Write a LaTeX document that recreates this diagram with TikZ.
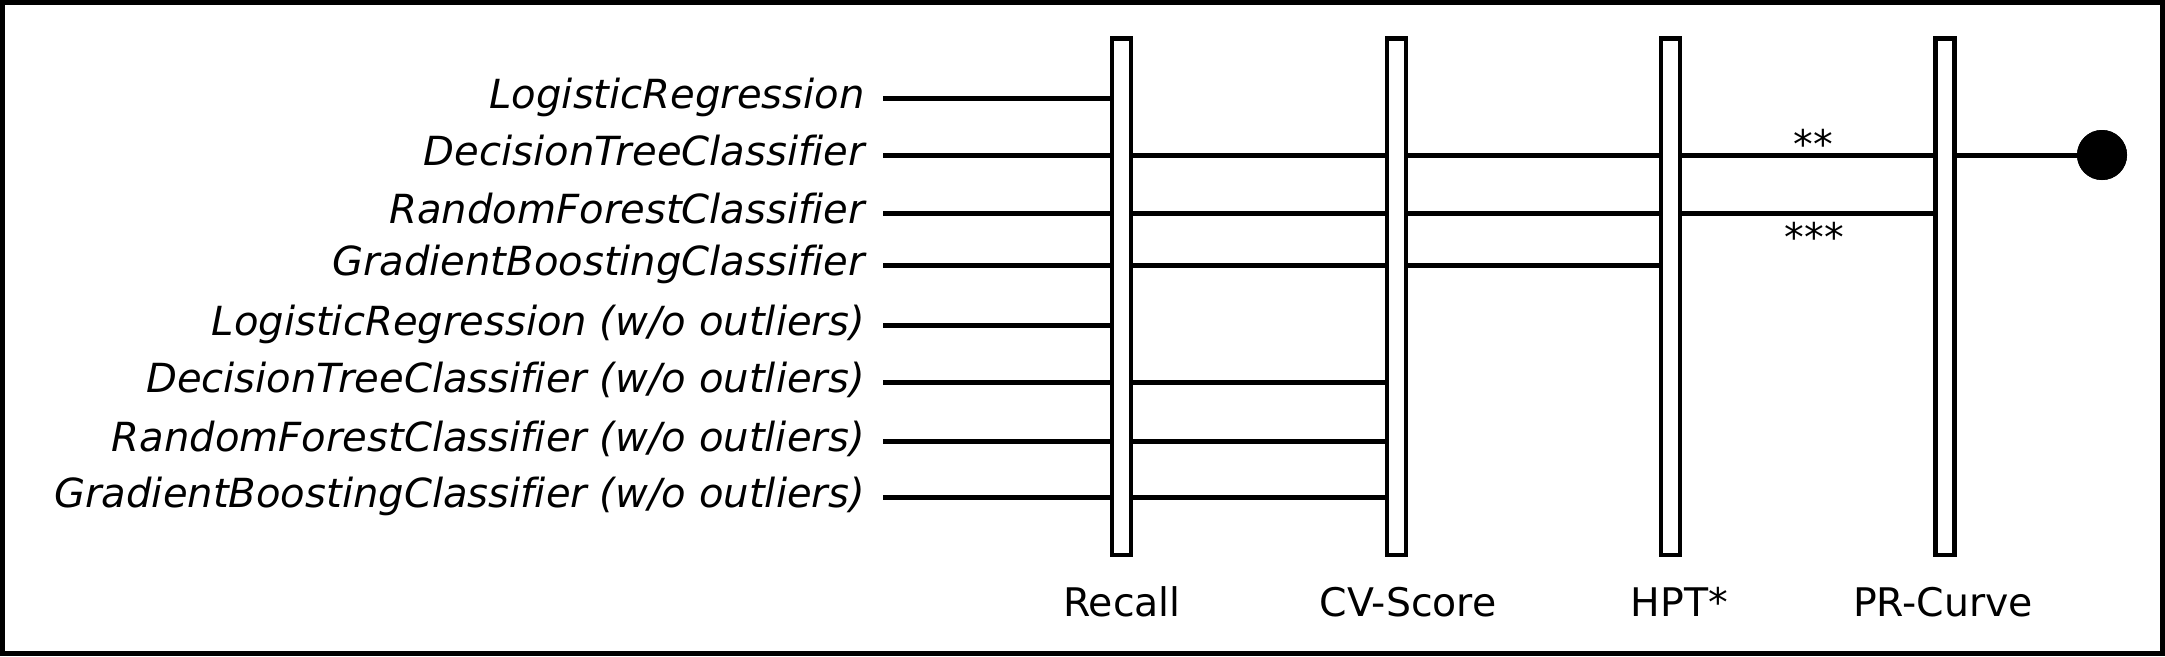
\documentclass[tikz,border=0pt]{standalone}
\usepackage{fontspec}
\setmainfont[Ligatures={NoCommon}]{DejaVu Sans}
\begin{document}
\begin{tikzpicture}[x=1pt,y=-1pt,
  lbl/.style={inner sep=0pt,font=\fontsize{40.1}{48}\selectfont\itshape,anchor=base east},
  axlbl/.style={inner sep=0pt,font=\fontsize{39.4}{47}\selectfont,anchor=base},
  star/.style={inner sep=0pt,font=\fontsize{39.4}{47}\selectfont,anchor=base},
  bar/.style={draw,fill=white,line width=4.2pt,minimum width=19pt,minimum height=516.5pt,inner sep=0pt},
  conn/.style={line width=5pt},
  dot/.style={circle,fill=black,minimum size=50pt,inner sep=0pt}]
\useasboundingbox (0,0) rectangle (2165,656);
\draw[line width=5pt] (2.5,2.5) rectangle (2162.5,653.5);
% row label nodes and start coordinates
\foreach \n/\y/\t in {1/98.5/{LogisticRegression},2/155/{DecisionTreeClassifier},3/213/{RandomForestClassifier},4/265.5/{GradientBoostingClassifier},5/325/{LogisticRegression (w/o outliers)},6/382.5/{DecisionTreeClassifier (w/o outliers)},7/441/{RandomForestClassifier (w/o outliers)},8/497/{GradientBoostingClassifier (w/o outliers)}}{
  \node[lbl] (l\n) at (865,\y+10) {\t};
  \coordinate (s\n) at (883,\y);
}
% bar positions (nodes drawn later on top)
\path (1121.5,296.75) coordinate (pr) (1396.5,296.75) coordinate (pc) (1670.5,296.75) coordinate (ph) (1945,296.75) coordinate (pp);
\node[dot] (end) at (2102,155) {};
% connectors
\draw[conn] (s1) -- (s1 -| pr);
\draw[conn] (s2) -- (s2 -| end.center);
\draw[conn] (s3) -- (s3 -| pp);
\draw[conn] (s4) -- (s4 -| ph);
\draw[conn] (s5) -- (s5 -| pr);
\draw[conn] (s6) -- (s6 -| pc);
\draw[conn] (s7) -- (s7 -| pc);
\draw[conn] (s8) -- (s8 -| pc);
\node[dot] at (end) {};
% bars
\node[bar] (recall) at (pr) {};
\node[bar] (cv) at (pc) {};
\node[bar] (hpt) at (ph) {};
\node[bar] (prc) at (pp) {};
% axis labels
\node[axlbl] (t1) at (1122,616) {Recall};
\node[axlbl] (t2) at (1408,616) {CV-Score};
\node[axlbl] (t3) at (1679.5,616) {HPT*};
\node[axlbl] (t4) at (1943,616) {PR-Curve};
% significance marks
\node[star] (st2) at (1813,158) {**};
\node[star] (st3) at (1814.5,251) {***};
\end{tikzpicture}
\end{document}
